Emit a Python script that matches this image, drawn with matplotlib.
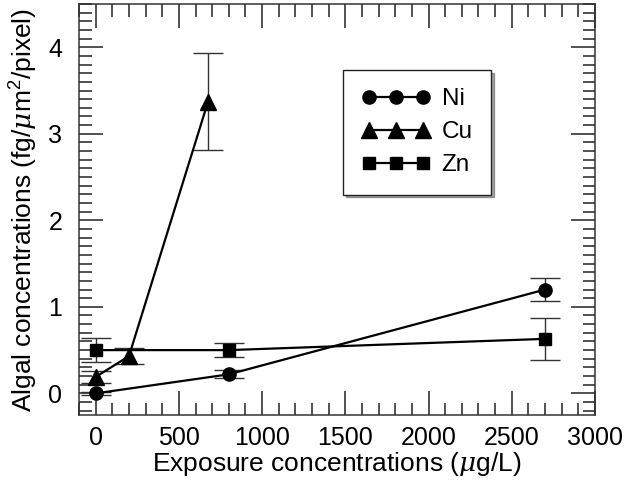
import matplotlib
matplotlib.use("Agg")
import matplotlib.pyplot as plt
from matplotlib.ticker import MultipleLocator
from matplotlib.lines import Line2D

plt.rcParams['font.family'] = ['Liberation Sans', 'DejaVu Sans']
plt.rcParams['mathtext.fontset'] = 'custom'
plt.rcParams['mathtext.rm'] = 'Liberation Sans'
plt.rcParams['mathtext.it'] = 'DejaVu Serif:italic'

# Data
ni_x = [0, 800, 2700]
ni_y = [0.0, 0.22, 1.20]
ni_err = [0.02, 0.045, 0.13]

cu_x = [0, 200, 675]
cu_y = [0.19, 0.43, 3.37]
cu_err = [0.07, 0.09, 0.56]

zn_x = [0, 800, 2700]
zn_y = [0.50, 0.50, 0.63]
zn_err = [0.135, 0.077, 0.245]

labels = ['Ni', 'Cu', 'Zn']

fig = plt.figure(figsize=(6.26, 4.8), dpi=100)
ax = fig.add_axes([0.1262, 0.1354, 0.8243, 0.8563])

common = dict(color='black', ecolor='#333333', elinewidth=1.0, capsize=10.5,
              capthick=1.0, lw=1.6)
styles = [('o', 9.5), ('^', 11), ('s', 9)]
series = [(ni_x, ni_y, ni_err), (cu_x, cu_y, cu_err), (zn_x, zn_y, zn_err)]
handles = []
for (x, y, e), (m, ms), lab in zip(series, styles, labels):
    ax.errorbar(x, y, yerr=e, marker=m, ms=ms, **common)
    handles.append(Line2D([], [], color='black', lw=1.6, marker=m, ms=ms, label=lab))

ax.set_xlim(-100, 3000)
ax.set_ylim(-0.25, 4.5)
ax.xaxis.set_major_locator(MultipleLocator(500))
ax.xaxis.set_minor_locator(MultipleLocator(100))
ax.yaxis.set_major_locator(MultipleLocator(1))
ax.yaxis.set_minor_locator(MultipleLocator(0.1))
ax.tick_params(which='both', direction='in', top=True, right=True, width=1.1,
               labelsize=18, color='#222222')
ax.tick_params(axis='x', which='major', length=17, pad=8)
ax.tick_params(axis='y', which='major', length=17, pad=12)
ax.tick_params(which='minor', length=9)
for s in ax.spines.values():
    s.set_linewidth(1.1)
    s.set_color('#333333')

ax.set_xlabel(r'Exposure concentrations ($\mu$g/L)', fontsize=19, labelpad=0)
ax.set_ylabel(r'Algal concentrations (fg/$\mu$m$^2$/pixel)', fontsize=19, labelpad=6)

leg = ax.legend(handles=handles, loc='upper left', bbox_to_anchor=(0.512, 0.839),
                numpoints=3, handlelength=2.85, fontsize=17.5, frameon=True,
                fancybox=False, shadow=True, borderpad=0.75, labelspacing=0.45,
                handletextpad=0.45, borderaxespad=0)
leg.get_frame().set_edgecolor('#222222')
leg.get_frame().set_linewidth(1.0)

fig.savefig('out.png', dpi=100)
